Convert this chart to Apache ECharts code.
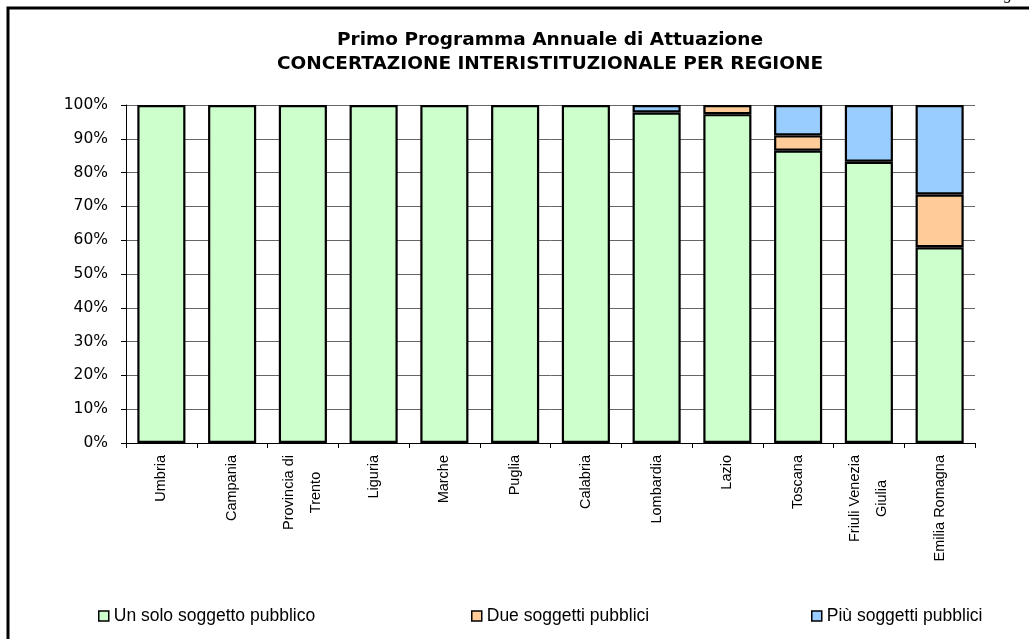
<!DOCTYPE html>
<html>
<head>
<meta charset="utf-8">
<script src="https://cdn.jsdelivr.net/npm/echarts@6/dist/echarts.min.js"></script>
<style>
html,body{margin:0;padding:0;background:#fff;}
#chart{width:1029px;height:639px;}
</style>
</head>
<body>
<div id="chart"></div>
<script>
var titleLine1 = 'Primo Programma Annuale di Attuazione';
var titleLine2 = 'CONCERTAZIONE INTERISTITUZIONALE PER REGIONE';
var figLabel = 'Fig. 4';
var categories = ['Umbria','Campania','Provincia di\nTrento','Liguria','Marche','Puglia','Calabria','Lombardia','Lazio','Toscana','Friuli Venezia\nGiulia','Emilia Romagna'];
var seriesNames = ['Un solo soggetto pubblico','Due soggetti pubblici','Più soggetti pubblici'];
var unSolo = [100,100,100,100,100,100,100,97.8,97.3,86.5,83.2,57.9];
var due    = [0,0,0,0,0,0,0,0,2.7,4.5,0,15.6];
var piu    = [0,0,0,0,0,0,0,2.2,0,9.0,16.8,26.5];
var yTicks = [0,10,20,30,40,50,60,70,80,90,100];
var colors = ['#ccffcc','#ffcc99','#99ccff'];

var chart = echarts.init(document.getElementById('chart'), null, {renderer:'canvas'});
var seriesData = [unSolo, due, piu];
var series = seriesNames.map(function(n,i){
  return {
    name:n, type:'bar', stack:'tot',
    data:seriesData[i].map(function(v){ return v === 0 ? '-' : v; }),
    barCategoryGap:'32%',
    itemStyle:{color:colors[i], borderColor:'#000', borderWidth:2.2},
    emphasis:{disabled:true}, animation:false
  };
});
var legendLefts = [93, 466, 806];
var legends = seriesNames.map(function(n,i){
  return {
    data:[n], left:legendLefts[i], top:602, icon:'rect',
    itemWidth:10, itemHeight:10, itemGap:0,
    itemStyle:{borderColor:'#000', borderWidth:1.5},
    textStyle:{fontFamily:'Liberation Sans', fontSize:17.5, color:'#000'},
    selectedMode:false
  };
});
chart.setOption({
  animation:false,
  color:colors,
  grid:{left:126, right:54, top:105, bottom:196, containLabel:false},
  legend:legends,
  xAxis:{
    type:'category', data:categories,
    axisLine:{lineStyle:{color:'#000', width:1}},
    axisTick:{show:true, length:5, lineStyle:{color:'#000'}},
    axisLabel:{
      rotate:90, margin:12, interval:0, color:'#000',
      fontFamily:'Liberation Sans', fontSize:14.5,
      formatter:function(v){
        var parts = v.split('\n');
        if (parts.length === 1) return v;
        return parts.map(function(p){return '{c|'+p+'}';}).join('\n');
      },
      rich:{c:{align:'center', fontFamily:'Liberation Sans', fontSize:14.5, lineHeight:27, color:'#000'}}
    }
  },
  yAxis:{
    type:'value', min:yTicks[0], max:yTicks[yTicks.length-1], interval:10,
    axisLine:{show:true, lineStyle:{color:'#000', width:1}},
    axisTick:{show:true, length:5, lineStyle:{color:'#000'}},
    axisLabel:{formatter:'{value}%', color:'#000', fontFamily:'DejaVu Sans', fontSize:15.5, margin:18},
    splitLine:{show:true, lineStyle:{color:'#666', width:1}}
  },
  series:series,
  graphic:[
    {type:'rect', shape:{x:8, y:8, width:1040, height:660}, style:{fill:'none', stroke:'#000', lineWidth:3}, silent:true},
    {type:'text', x:550, y:40, style:{text:titleLine1, textAlign:'center', textVerticalAlign:'middle', fill:'#000', font:'bold 18.5px "DejaVu Sans"'}},
    {type:'text', x:550, y:64, style:{text:titleLine2, textAlign:'center', textVerticalAlign:'middle', fill:'#000', font:'bold 18.5px "DejaVu Sans"'}},
    {type:'text', x:990, y:-13, style:{text:figLabel, fill:'#000', font:'italic 16px "Liberation Serif"'}}
  ]
});
</script>
</body>
</html>
